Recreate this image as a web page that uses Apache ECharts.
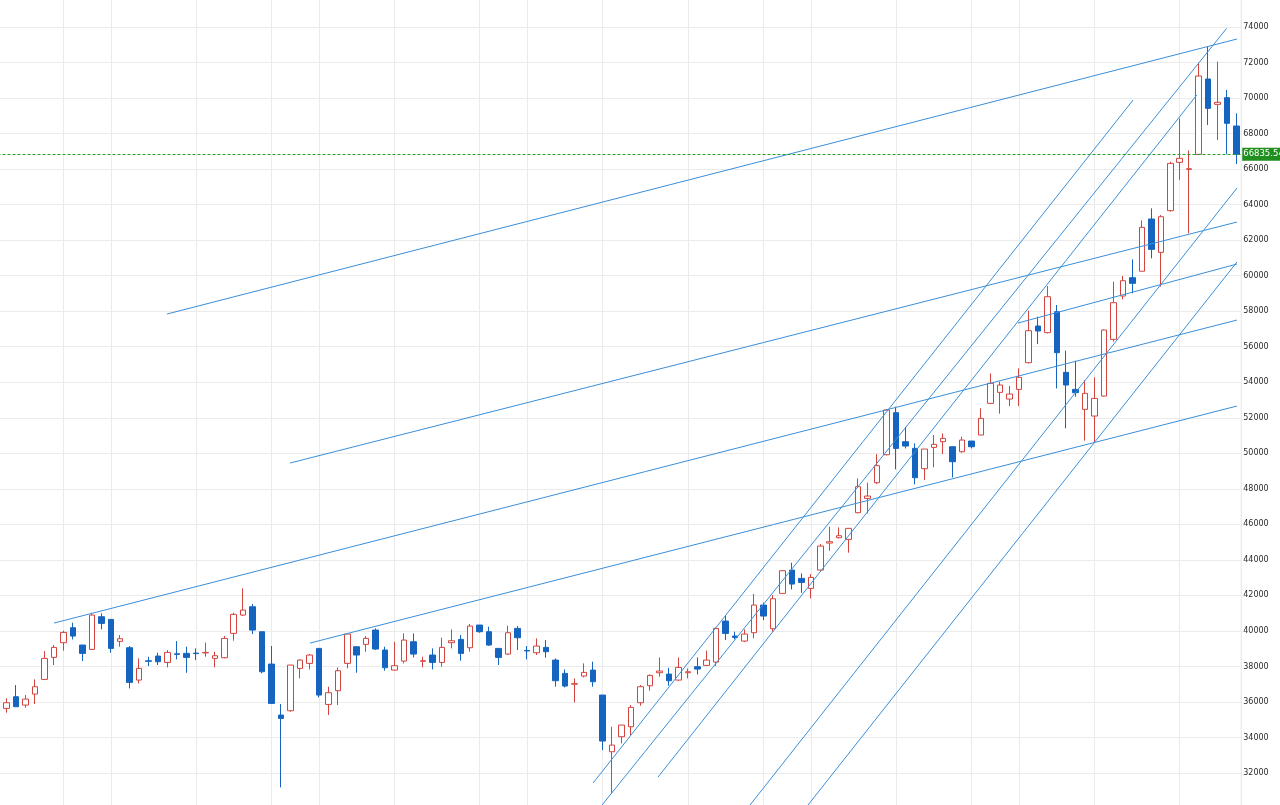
<!DOCTYPE html>
<html><head><meta charset="utf-8">
<script src="https://cdn.jsdelivr.net/npm/echarts@6.0.0/dist/echarts.min.js"></script>
<style>html,body{margin:0;padding:0;background:#fff;overflow:hidden}#c{width:1280px;height:805px}</style>
</head><body><div id="c"></div>
<script>
// candles: [open, close, low, high]; first row is the partly hidden candle at the left edge
const ohlc = [
[33700,35500,33600,35650],
[35637,35956,35393,36200],[36294,35731,35731,36951],[35825,36162,35675,36388],[36444,36857,35881,37270],
[37270,38452,37232,38865],[38509,39072,38077,39203],[39334,39916,38884,40010],[40179,39710,39522,40461],
[39203,38734,38302,39203],[38959,40892,38922,41024],[40798,40423,40085,40986],[40648,39015,38771,40648],
[39410,39560,39109,39766],[39053,37101,36763,39147],[37232,37889,37045,38452],[38320,38290,38021,38546],
[38584,38265,38077,38771],[38227,38790,37946,38922],[38710,38680,38396,39428],[38734,38509,37645,39109],
[38750,38720,38358,39015],[38760,38790,38546,39334],[38452,38602,37946,38828],[38490,39578,38452,39710],
[39860,40930,39447,41024],[40892,41174,40836,42394],[41361,40048,39822,41512],[39954,37701,37608,39954],
[38133,35918,35881,39147],[35262,35074,31189,35881],[35506,38077,35449,38077],[37889,38358,37326,38396],
[38171,38640,37833,38696],[39015,36388,36256,39015],[35862,36519,35262,36857],[36632,37758,35825,37946],
[38171,39822,37889,39860],[39109,38640,37645,39109],[39241,39578,38828,39710],[40048,38978,38922,40142],
[38922,37927,37758,39109],[37795,38040,37758,39391],[38302,39485,38171,39860],[39391,38696,38509,39860],
[38290,38320,37946,38546],[38640,38227,37833,39015],[38227,39072,37983,39616],[39334,39447,39015,40085],
[39522,38734,38321,39766],[39053,40273,38828,40385],[40329,39954,39897,40329],[39954,39203,39166,40235],
[39015,38509,38077,39015],[38696,39897,38640,40292],[40142,39616,38922,40273],[38900,38870,38396,39147],
[38771,39147,38640,39578],[39072,38828,38490,39485],[38358,37195,36857,38452],[37608,36894,36819,37833],
[37000,37030,35975,37326],[37458,37664,37382,38171],[37795,37138,36857,38265],[36388,33798,33291,36388],
[33197,33572,30851,34605],[34041,34698,33666,34698],[34604,35693,34135,35824],[35956,36857,35787,36950],
[36913,37495,36631,37551],[37645,37739,37420,38508],[37570,37194,36913,37926],[37232,37945,37194,38508],
[37645,37700,37326,37889],[37983,37851,37551,38508],[38058,38358,38020,38884],[38245,40141,38020,40198],
[40554,39860,39484,40836],[39710,39635,39522,39954],[39428,39822,39372,40085],[39897,41455,39578,42074],
[41455,40836,40610,41586],[40122,41812,39954,42018],[42112,43388,42112,43388],[43426,42637,42337,43839],
[42957,42731,42149,43238],[42393,43013,41830,43201],[43426,44777,43332,44890],[44946,45021,44514,45866],
[45246,45359,45209,45828],[45152,45772,44402,45800],[46654,48118,46616,48587],[47461,47593,46616,48343],
[48343,49300,48268,49957],[49920,52435,49882,52472],[52285,50276,49094,52622],[50652,50408,50276,51496],
[50276,48625,48249,50558],[49132,50239,48493,50239],[50333,50502,49207,51027],[50652,50839,49957,51121],
[50370,49526,48643,50370],[50088,50745,50032,50933],[50689,50370,50276,50689],[51027,51966,51027,52529],
[52810,53937,52773,54500],[53430,53843,52230,54030],[53054,53336,52660,53786],[53599,54274,52660,54781],
[55100,56902,55062,58028],[57165,56883,56151,57690],[56789,58816,56752,59417],[57972,55663,53655,58347],
[54556,53843,51403,55776],[53599,53411,53186,55213],[52472,53374,50708,54124],[52097,53092,50596,54274],
[53223,56939,53186,56977],[56414,58478,56283,59661],[58854,59717,58666,59980],[59886,59567,59004,60918],
[60250,62720,60250,63110],[63189,61481,60975,63789],[61312,63320,59379,63414],[63658,66323,63602,66417],
[66379,66605,65400,68857],[65985,66020,62382,67050],[66830,71241,66830,71991],[71072,69420,68482,72892],
[69645,69758,67637,72048],[70021,68576,66830,70452],[68425,66835.54,66286,69139]
];
const categories = ohlc.map((_, i) => String(i - 1));
const lastPrice = 66835.54;
// drawn trend lines: [fromIndex, fromValue, toIndex, toValue] (index of candle, -1 = hidden edge candle)
const trendLines = [
  [16.94, 57840, 130.05, 73324],
  [29.95, 49451, 130.05, 63020],
  [5.0, 40442, 130.05, 57502],
  [32.06, 39315, 130.05, 52660],
  [106.9, 57333, 130.05, 60655],
  [61.98, 31433, 119.07, 69890],
  [62.93, 30194, 128.96, 73927],
  [68.85, 31770, 125.8, 70171],
  [78.57, 30194, 130.05, 64935],
  [84.7, 30194, 130.05, 60768]
];
// candles crossed by the vertical grid lines
const gridCandles = [6, 11, 20, 28, 33, 41, 50, 55, 63, 72, 80, 85, 94, 102, 107, 115, 124];
const yMin = 30000, yMax = 76000, yStep = 2000;

const RED = '#d4443f', BLUE = '#1565c0', LINE = '#3a8fd9';
const chart = echarts.init(document.getElementById('c'), null, {renderer: 'canvas'});
chart.setOption({
  animation: false,
  backgroundColor: '#ffffff',
  grid: {left: -7.49, right: 38.77, top: -8.52, bottom: -3.52, show: true, borderColor: '#e4e4e4', borderWidth: 1,
         outerBoundsMode: 'none', containLabel: false},
  xAxis: [
    {type: 'category', data: categories, boundaryGap: true, axisLine: {show: false}, axisTick: {show: false},
     axisLabel: {show: false}, splitLine: {show: false}},
    {type: 'value', min: -1.5, max: 130.5, show: false, splitLine: {show: false}}
  ],
  yAxis: {
    type: 'value', position: 'right', min: yMin, max: yMax, interval: yStep, scale: true,
    axisLine: {show: false}, axisTick: {show: false},
    axisLabel: {color: '#2a2a2a', fontSize: 8, fontFamily: 'DejaVu Sans', margin: 2, showMinLabel: false, showMaxLabel: false,
                formatter: v => String(v)},
    splitLine: {show: true, lineStyle: {color: '#ebebeb', width: 1}}
  },
  series: [
    {
      type: 'line', xAxisIndex: 0, data: [], silent: true,
      markLine: {
        silent: true, symbol: 'none', z: 1, animation: false,
        label: {show: false},
        lineStyle: {color: '#ebebeb', type: 'solid', width: 1},
        emphasis: {disabled: true},
        data: gridCandles.map(k => ({xAxis: k + 1}))
      }
    },
    {
      type: 'candlestick', xAxisIndex: 0, data: ohlc, barWidth: 6, z: 2,
      itemStyle: {color: '#ffffff', color0: BLUE, borderColor: RED, borderColor0: BLUE, borderWidth: 1},
      markLine: {
        silent: true, symbol: 'none', z: 5, animation: false,
        lineStyle: {color: '#2a9d2a', type: [3, 2], width: 1},
        label: {show: true, position: 'end', distance: 1, formatter: () => String(lastPrice),
                color: '#ffffff', backgroundColor: '#1f8f1f', fontSize: 8.5, fontFamily: 'DejaVu Sans',
                padding: [2, 2, 2, 1]},
        emphasis: {disabled: true},
        data: [{yAxis: lastPrice}]
      }
    },
    {
      type: 'lines', coordinateSystem: 'cartesian2d', xAxisIndex: 1, yAxisIndex: 0, silent: true, z: 3,
      lineStyle: {color: LINE, width: 1, opacity: 1, curveness: 0},
      data: trendLines.map(t => ({coords: [[t[0], t[1]], [t[2], t[3]]]}))
    }
  ]
});
</script></body></html>
